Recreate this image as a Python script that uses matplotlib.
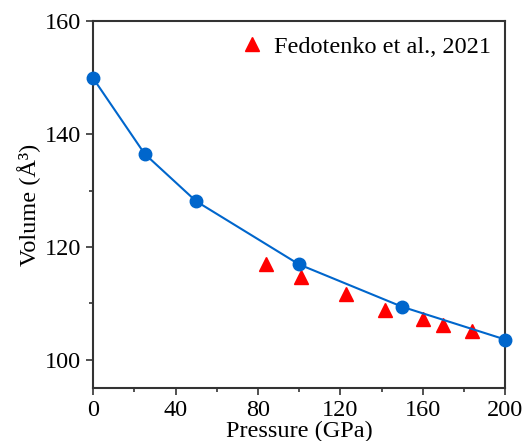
import numpy as np
import matplotlib
matplotlib.use('Agg')
import matplotlib.pyplot as plt
from matplotlib.ticker import MultipleLocator

# calculated P-V points
p_calc = [0, 25, 50, 100, 150, 200]
v_calc = [149.9, 136.5, 128.1, 116.9, 109.4, 103.6]

# experiment (Fedotenko et al., 2021)
p_exp = [84.0, 100.8, 122.8, 141.9, 159.9, 169.8, 184.0]
v_exp = [117.0, 114.6, 111.7, 108.8, 107.3, 106.2, 105.1]

plt.rcParams['font.family'] = ['Liberation Serif', 'DejaVu Serif']
plt.rcParams['font.size'] = 17.5

fig = plt.figure(figsize=(5.23, 4.41), dpi=100)
ax = fig.add_axes([0.178, 0.12, 0.788, 0.832])

ax.plot(p_calc, v_calc, '-o', color='#0066cc', lw=1.5, ms=9, clip_on=False, zorder=3)
ax.plot(p_exp, v_exp, '^', color='red', ms=9.5, ls='none', label='Fedotenko et al., 2021')

ax.set_xlim(0, 200)
ax.set_ylim(95, 160)
ax.xaxis.set_major_locator(MultipleLocator(40))
ax.xaxis.set_minor_locator(MultipleLocator(20))
ax.yaxis.set_major_locator(MultipleLocator(20))
ax.yaxis.set_minor_locator(MultipleLocator(10))
ax.tick_params(which='major', direction='out', length=5, width=1.2, color='#333333')
ax.tick_params(which='minor', direction='out', length=3, width=1.2, color='#333333')
for s in ax.spines.values():
    s.set_linewidth(1.5)
    s.set_color('#333333')

ax.set_xlabel('Pressure (GPa)', labelpad=0)
ax.set_ylabel('Volume (Å³)', labelpad=3)
ax.legend(loc='upper right', frameon=False, handletextpad=0.3, borderaxespad=0.2,
          handlelength=1.2)

fig.savefig('out.png', dpi=100)
